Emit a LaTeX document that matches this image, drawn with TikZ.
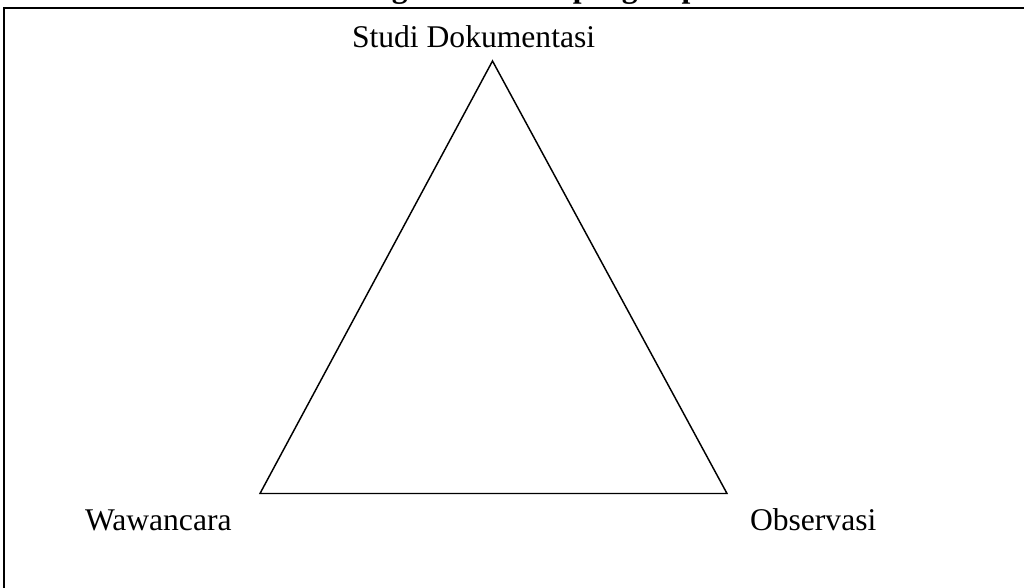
\documentclass[tikz,border=0pt]{standalone}
\usepackage{fontspec}
\setmainfont{Liberation Serif}
\begin{document}
\begin{tikzpicture}[x=0.75pt,y=-0.75pt,
  lbl/.style={inner sep=0pt,outer sep=0pt,anchor=base west,font=\fontsize{23.7}{28}\selectfont},
  ttl/.style={lbl,font=\fontsize{23.7}{28}\selectfont\bfseries},
  frameline/.style={draw=black,line width=1.4pt},
  triline/.style={draw=black,line width=1.1pt,line join=miter}]
\useasboundingbox (0,0) rectangle (1024,587);
% frame (extends beyond right and bottom edges)
\draw[frameline] (4,640) -- (4,8) -- (1080,8);
% title, cut off at the top edge
\node[ttl] (t) at (317,-2.5) {Triangulasi teknik pengumpulan data};
% triangle
\coordinate (a) at (492.5,61);
\coordinate (b) at (260,493.5);
\coordinate (c) at (727,493.5);
\draw[triline] (a) -- (b) -- (c) -- cycle;
% labels
\node[lbl] (sd) at (352,47) {Studi Dokumentasi};
\node[lbl] (ww) at (85,530.5) {Wawancara};
\node[lbl] (ob) at (750,530.5) {Observasi};
\end{tikzpicture}
\end{document}
